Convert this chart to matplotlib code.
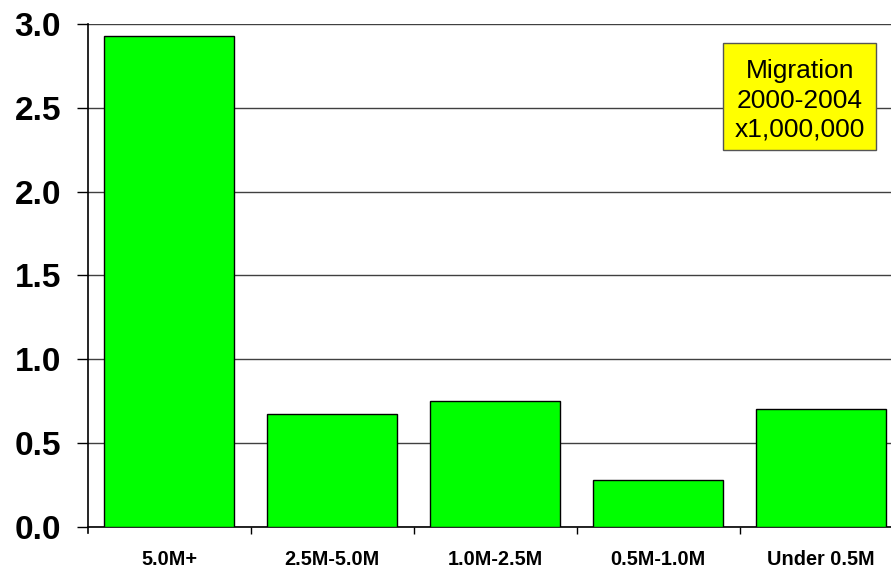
import matplotlib
matplotlib.use("Agg")
import matplotlib.pyplot as plt
from matplotlib.patches import Rectangle

categories = ["5.0M+", "2.5M-5.0M", "1.0M-2.5M", "0.5M-1.0M", "Under 0.5M"]
values = [2.93, 0.674, 0.75, 0.279, 0.702]
yticks = [0.0, 0.5, 1.0, 1.5, 2.0, 2.5, 3.0]
ytick_labels = ["0.0", "0.5", "1.0", "1.5", "2.0", "2.5", "3.0"]
legend_text = "Migration\n2000-2004\nx1,000,000"

plt.rcParams['font.family'] = ['Liberation Sans', 'DejaVu Sans']

fig = plt.figure(figsize=(8.91, 5.70), dpi=100)
ax = fig.add_axes([87.5/891, 43.3/570, 815/891, 502.7/570])

x = list(range(len(categories)))
ax.bar(x, values, width=0.80, color="#00FF00", edgecolor="black", linewidth=1.0, zorder=3)

ax.set_xlim(-0.5, len(categories) - 0.5)
ax.set_ylim(0, 3.0)

ax.set_yticks(yticks)
ax.set_yticklabels(ytick_labels, fontsize=24, fontweight="bold")
ax.tick_params(axis="y", direction="out", length=8, width=1, pad=11, color="black")
ax.yaxis.grid(True, color="#404040", linewidth=1.0, zorder=0)

ax.set_xticks(x)
ax.set_xticklabels(categories, fontsize=14.3, fontweight="bold")
ax.tick_params(axis="x", which="major", length=0, pad=17)
ax.set_xticks([i + 0.5 for i in x[:-1]], minor=True)
ax.tick_params(axis="x", which="minor", direction="out", length=5, width=1, color="black")

for s in ["top", "right"]:
    ax.spines[s].set_visible(False)
ax.spines["left"].set_color("black")
ax.spines["bottom"].set_color("black")
ax.spines["left"].set_linewidth(1.2)
ax.spines["bottom"].set_linewidth(1.2)
ax.spines["left"].set_bounds(-0.04, 3.0)
ax.set_axisbelow(True)

# legend-like label box
bx0, by0, bw, bh = 723.3, 43.3, 152.7, 106.7
fig.patches.append(Rectangle((bx0/891, 1 - (by0 + bh)/570), bw/891, bh/570,
                             transform=fig.transFigure, facecolor="#FFFF00",
                             edgecolor="#555555", linewidth=1.0, zorder=5))
fig.text((bx0 + bw/2)/891, 1 - (by0 + bh/2 + 4)/570, legend_text, ha="center", va="center",
         fontsize=19, linespacing=1.28, zorder=6)

fig.savefig("out.png", dpi=100)
